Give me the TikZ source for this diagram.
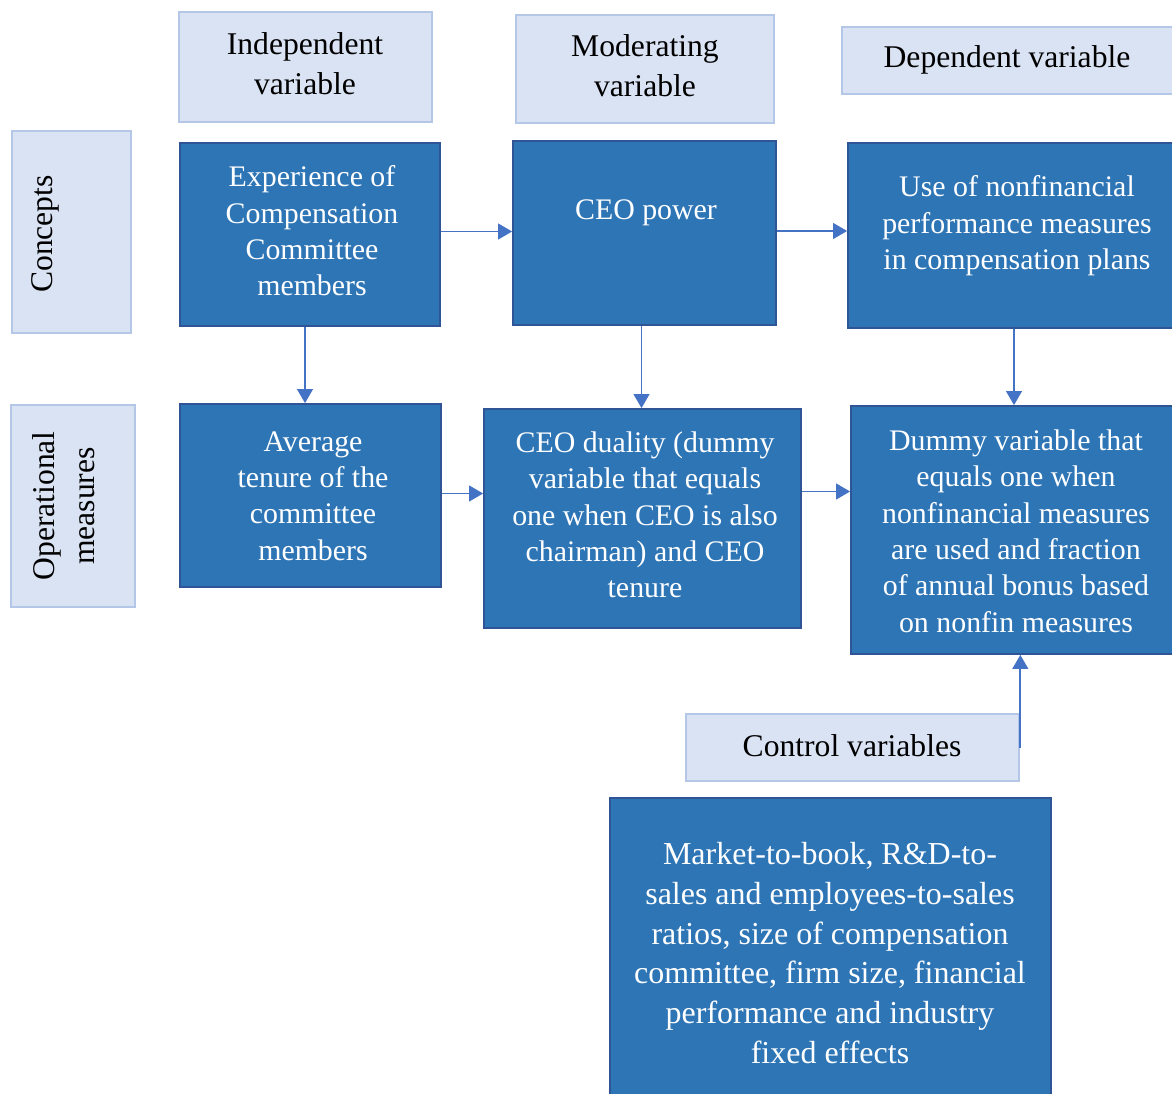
\documentclass[tikz,border=0pt]{standalone}
\usepackage{fontspec}
\setmainfont{Liberation Serif}
\usetikzlibrary{arrows.meta,fit,calc}
\definecolor{darkfill}{HTML}{2E75B6}
\definecolor{darkborder}{HTML}{2F5597}
\definecolor{lightfill}{HTML}{DAE3F3}
\definecolor{lightborder}{HTML}{B4C7E7}
\definecolor{arrowc}{HTML}{4472C4}
\begin{document}
\begin{tikzpicture}[x=0.02cm,y=-0.02cm,
 darkbox/.style={draw=darkborder, fill=darkfill, line width=1pt, inner sep=0pt},
 lightbox/.style={draw=lightborder, fill=lightfill, line width=1.5pt, inner sep=0pt},
 darktxt/.style={text=white, align=center, font=\fontsize{17}{20.7}\selectfont, inner sep=0pt},
 bigtxt/.style={text=white, align=center, font=\fontsize{18.2}{22.7}\selectfont, inner sep=0pt},
 lighttxt/.style={text=black, align=center, font=\fontsize{18}{22.7}\selectfont, inner sep=0pt},
 arr/.style={draw=arrowc, line width=1pt, -{Triangle[length=8pt,width=9pt]}}]
\useasboundingbox (0,0) rectangle (1172,1094);
\clip (0,0) rectangle (1172,1094);
% header boxes
\node[lightbox, fit={(179,12) (432,122)}] (hind) {};
\node[lightbox, fit={(516,15) (774,123)}] (hmod) {};
\node[lightbox, fit={(842,27) (1182,94)}] (hdep) {};
\node[lightbox, fit={(12,131) (131,333)}] (hcon) {};
\node[lightbox, fit={(11,405) (135,607)}] (hop) {};
\node[lightbox, fit={(686,714) (1019,781)}] (ctrl) {};
\node[lighttxt] (tind) at (305,64) {Independent\\variable};
\node[lighttxt] (tmod) at (645,66) {Moderating\\variable};
\node[lighttxt] (tdep) at (1007,60) {Dependent variable};
\node[lighttxt, rotate=90] (tcon) at (45,234) {Concepts};
\node[lighttxt, rotate=90] (top) at (64,506) {Operational\\measures};
\node[lighttxt] (tctrl) at (852,746) {Control variables};
% dark boxes
\node[darkbox, fit={(180,143) (440,326)}] (exp) {};
\node[darkbox, fit={(513,141) (776,325)}] (ceo) {};
\node[darkbox, fit={(848,143) (1180,328)}] (use) {};
\node[darkbox, fit={(180,404) (441,587)}] (avg) {};
\node[darkbox, fit={(484,409) (801,628)}] (dual) {};
\node[darkbox, fit={(851,406) (1180,654)}] (dummy) {};
\node[darkbox, fit={(610,798) (1051,1110)}] (mkt) {};
\node[darktxt] (texp) at (312,231) {Experience of\\Compensation\\Committee\\members};
\node[darktxt] (tceo) at (646,213) {CEO power};
\node[darktxt] (tuse) at (1017,226) {Use of nonfinancial\\performance measures\\in compensation plans};
\node[darktxt] (tavg) at (313,496) {Average\\tenure of the\\committee\\members};
\node[darktxt] (tdual) at (645,515) {CEO duality (dummy\\variable that equals\\one when CEO is also\\chairman) and CEO\\tenure};
\node[darktxt] (tdummy) at (1016,531) {Dummy variable that\\equals one when\\nonfinancial measures\\are used and fraction\\of annual bonus based\\on nonfin measures};
\node[bigtxt] (tmkt) at (830,953) {Market-to-book, R\&D-to-\\sales and employees-to-sales\\ratios, size of compensation\\committee, firm size, financial\\performance and industry\\fixed effects};
% arrows
\draw[arr] ($(exp.east)+(0,-3)$) -- ($(exp.east -| ceo.west)+(0,-3)$);
\draw[arr] ($(ceo.east)+(0,-2)$) -- ($(ceo.east -| use.west)+(0,-2)$);
\draw[arr] ($(exp.south)+(-5,0)$) -- ($(exp.south |- avg.north)+(-5,0)$);
\draw[arr] ($(ceo.south)+(-3,0)$) -- ($(ceo.south |- dual.north)+(-3,0)$);
\draw[arr] (use.south) -- (use.south |- dummy.north);
\draw[arr] ($(avg.east)+(0,-2)$) -- ($(avg.east -| dual.west)+(0,-2)$);
\draw[arr] ($(dual.east)+(0,-27)$) -- ($(dual.east -| dummy.west)+(0,-27)$);
\draw[arr] (ctrl.east) -- (ctrl.east |- dummy.south);
\end{tikzpicture}
\end{document}
